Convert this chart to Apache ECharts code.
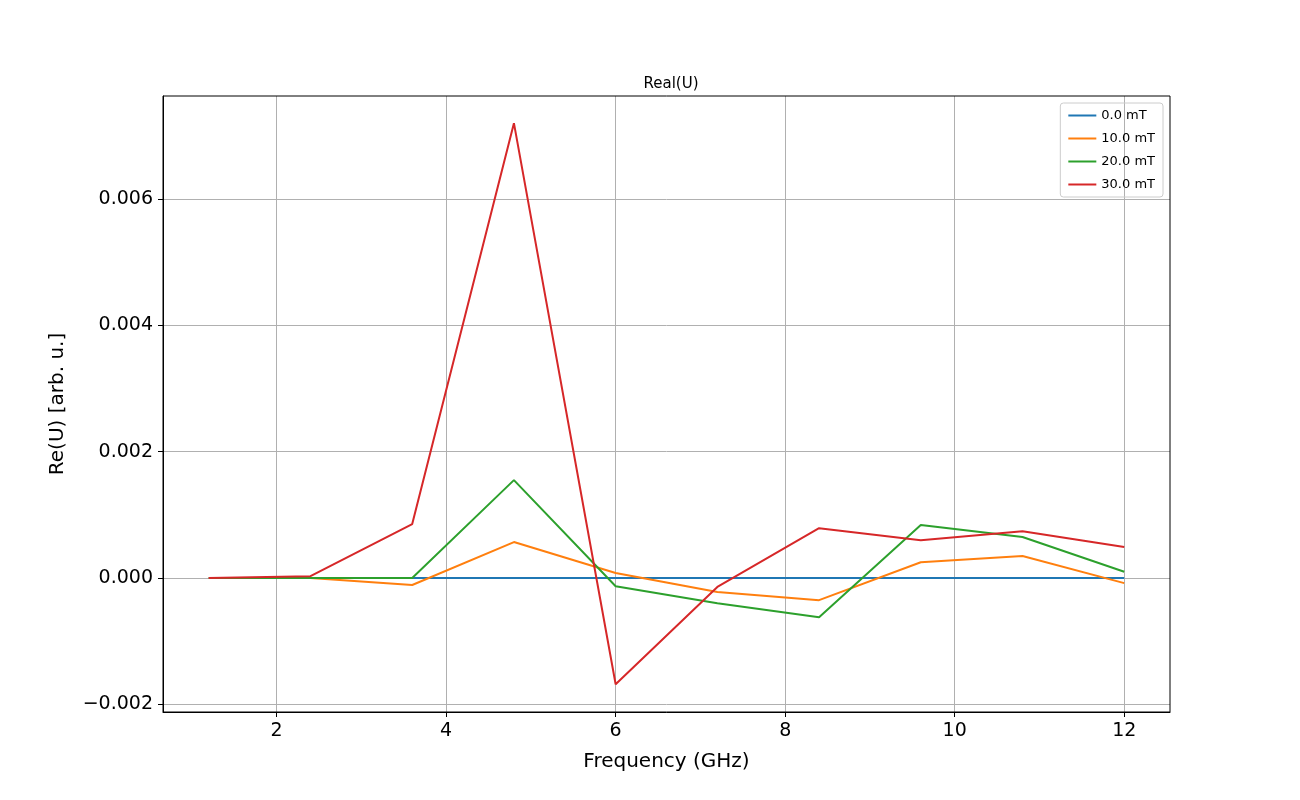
<!DOCTYPE html>
<html><head><meta charset="utf-8">
<script src="https://cdn.jsdelivr.net/npm/echarts@6/dist/echarts.min.js"></script>
<style>html,body{margin:0;padding:0;background:#fff}#c{width:1300px;height:800px}</style>
</head><body><div id="c"></div>
<script>
const freqs = [1.2, 2.4, 3.6, 4.8, 6.0, 7.2, 8.4, 9.6, 10.8, 12.0];
const s0 = [0, 0, 0, 0, 0, 0, 0, 0, 0, 0];
const s10 = [0, 0, -0.00011, 0.00057, 0.00008, -0.00022, -0.00035, 0.00025, 0.00035, -0.00008];
const s20 = [0, 0, 0, 0.00155, -0.00013, -0.0004, -0.00062, 0.00084, 0.00065, 0.0001];
const s30 = [0, 0.00003, 0.000855, 0.0072, -0.00168, -0.00014, 0.00079, 0.0006, 0.00074, 0.00049];
const names = ['0.0 mT', '10.0 mT', '20.0 mT', '30.0 mT'];
const colors = ['#1f77b4', '#ff7f0e', '#2ca02c', '#d62728'];
const xTicks = [2, 4, 6, 8, 10, 12];
const yTicks = [-0.002, 0, 0.002, 0.004, 0.006];
const all = [s0, s10, s20, s30];
const font = 'DejaVu Sans';
const chart = echarts.init(document.getElementById('c'));
chart.setOption({
  animation: false,
  textStyle: { fontFamily: font },
  title: { text: 'Real(U)', left: 666, top: 72, textAlign: 'center',
    textStyle: { fontFamily: font, fontSize: 15, fontWeight: 'normal', color: '#000' } },
  grid: { left: 163, right: 130, top: 96, bottom: 88 },
  legend: {
    orient: 'vertical', right: 137, top: 103, data: names,
    icon: 'rect', itemWidth: 28, itemHeight: 2, itemGap: 10,
    borderColor: '#ccc', borderWidth: 1, borderRadius: 3, padding: [6, 8, 6, 8],
    textStyle: { fontFamily: font, fontSize: 13, color: '#000' }
  },
  xAxis: {
    type: 'value', min: 0.66, max: 12.54,
    name: 'Frequency (GHz)', nameLocation: 'middle', nameGap: 40,
    nameTextStyle: { fontFamily: font, fontSize: 20, color: '#000' },
    axisLine: { onZero: false, lineStyle: { color: '#000' } },
    axisTick: { customValues: xTicks, length: 5, lineStyle: { color: '#000' } },
    axisLabel: { customValues: xTicks, fontSize: 19, color: '#000', fontFamily: font, margin: 10 },
    splitLine: { show: true, lineStyle: { color: '#b0b0b0' } }
  },
  yAxis: {
    type: 'value', min: -0.00212, max: 0.00763,
    name: 'Re(U) [arb. u.]', nameLocation: 'middle', nameGap: 95,
    nameTextStyle: { fontFamily: font, fontSize: 20, color: '#000' },
    axisLine: { show: true, onZero: false, lineStyle: { color: '#000' } },
    axisTick: { show: true, customValues: yTicks, length: 5, lineStyle: { color: '#000' } },
    axisLabel: { customValues: yTicks, fontSize: 19, color: '#000', fontFamily: font, margin: 10,
      formatter: v => (v < 0 ? '\u2212' : '') + Math.abs(v).toFixed(3) },
    splitLine: { show: true, lineStyle: { color: '#b0b0b0' } }
  },
  series: all.map((s, i) => ({
    name: names[i], type: 'line', data: freqs.map((f, j) => [f, s[j]]),
    showSymbol: false, lineStyle: { width: 2, color: colors[i] }, itemStyle: { color: colors[i] }
  }))
});
chart.getZr().add(new echarts.graphic.Rect({ shape: { x: 163, y: 96, width: 1007, height: 616 },
  style: { fill: 'none', stroke: '#000', lineWidth: 1 }, z: 100 }));
</script></body></html>
